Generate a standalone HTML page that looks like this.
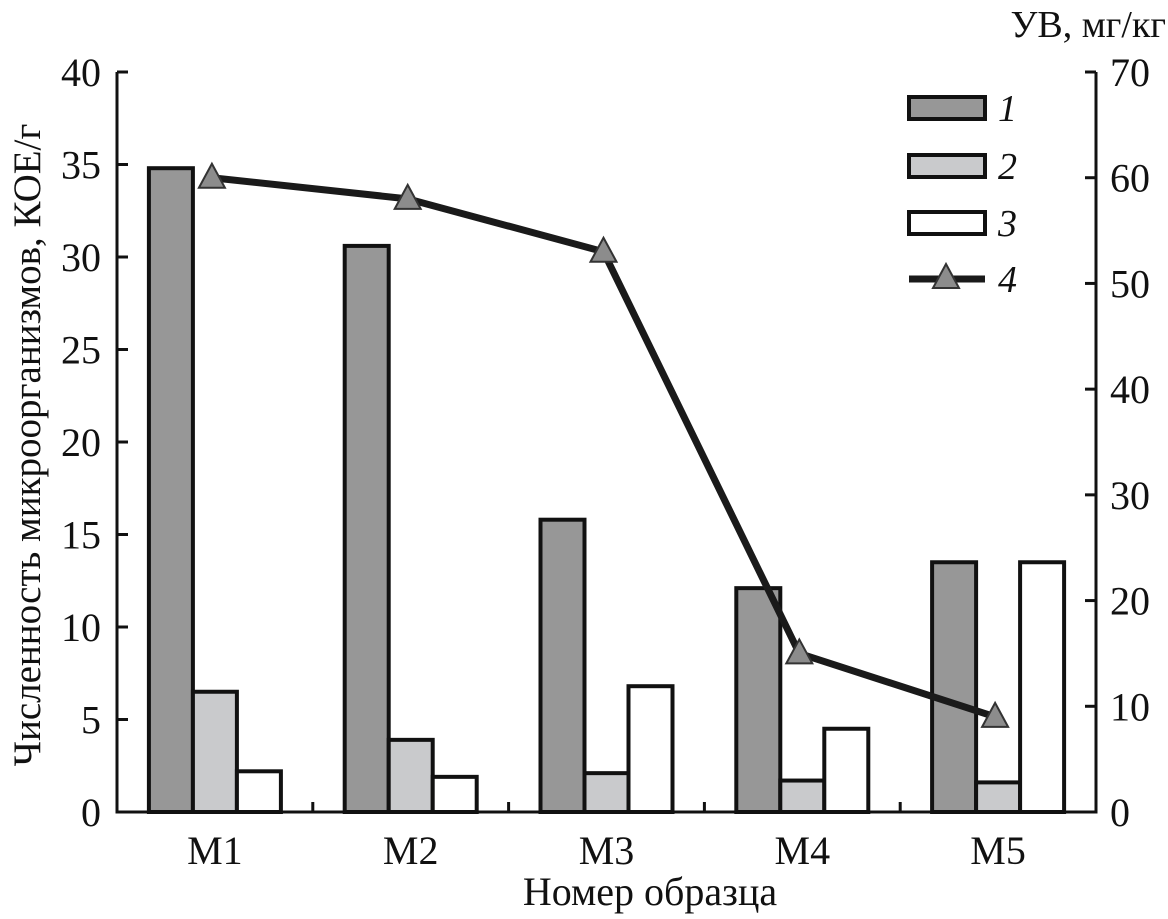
<!DOCTYPE html>
<html><head><meta charset="utf-8"><style>
body{margin:0;background:#fff}
svg{display:block;font-family:"Liberation Serif",serif}
</style></head><body>
<svg id="chart" width="1168" height="919">
<g id="bars"></g><g id="axes"></g><g id="line"></g><g id="legend"></g>
</svg>
<script>
const categories=["M1","M2","M3","M4","M5"];
const series1=[34.8,30.6,15.8,12.1,13.5];
const series2=[6.5,3.9,2.1,1.7,1.6];
const series3=[2.2,1.9,6.8,4.5,13.5];
const series4=[60,58,53,15,9];
const leftTicks=[0,5,10,15,20,25,30,35,40];
const rightTicks=[0,10,20,30,40,50,60,70];
const NS="http://www.w3.org/2000/svg";
const X0=117,X1=1096,Y0=812,Y1=72;
const yL=v=>Y0-(v/40)*(Y0-Y1);
const yR=v=>Y0-(v/70)*(Y0-Y1);
const cw=(X1-X0)/categories.length;
const xc=i=>X0+cw*(i+0.5);
function mk(p,tag,a,txt){const e=document.createElementNS(NS,tag);for(const k in a)e.setAttribute(k,a[k]);if(txt!==undefined)e.textContent=txt;document.getElementById(p).appendChild(e);return e;}
const bw=44,fills=["#979797","#c9cacc","#ffffff"];
[series1,series2,series3].forEach((s,si)=>{s.forEach((v,i)=>{
 const x=xc(i)-66+si*bw;
 const r=mk('bars','rect',{x:x,y:yL(v),width:bw,height:Y0-yL(v),fill:fills[si],stroke:'#111','stroke-width':4});
 
 
});});
let e=mk('axes','path',{d:`M${X0},${Y1} V${Y0} H${X1} V${Y1}`,fill:'none',stroke:'#111','stroke-width':3});

leftTicks.forEach(t=>{mk('axes','line',{x1:X0,x2:X0+11,y1:yL(t),y2:yL(t),stroke:'#111','stroke-width':3});
 const l=mk('axes','text',{x:X0-16,y:yL(t)+14,'text-anchor':'end','font-size':40,fill:'#111'},t);
 });
rightTicks.forEach(t=>{mk('axes','line',{x1:X1-11,x2:X1,y1:yR(t),y2:yR(t),stroke:'#111','stroke-width':3});
 const l=mk('axes','text',{x:X1+14,y:yR(t)+14,'text-anchor':'start','font-size':40,fill:'#111'},t);
 });
categories.forEach((c,i)=>{if(i>0)mk('axes','line',{x1:X0+cw*i,x2:X0+cw*i,y1:Y0,y2:Y0-10,stroke:'#111','stroke-width':3});
 const l=mk('axes','text',{x:xc(i),y:Y0+52,'text-anchor':'middle','font-size':40,fill:'#111'},c);
 });
e=mk('axes','text',{x:650,y:905,'text-anchor':'middle','font-size':40,fill:'#111'},'Номер образца');

e=mk('axes','text',{x:0,y:0,transform:'translate(40,445) rotate(-90)','text-anchor':'middle','font-size':39,fill:'#111'},'Численность микроорганизмов, КОЕ/г');

e=mk('axes','text',{x:1166,y:37,'text-anchor':'end','font-size':38,fill:'#111'},'УВ, мг/кг');

const pts=series4.map((v,i)=>[xc(i)-3,yR(v)]);
e=mk('line','polyline',{points:pts.map(p=>p.join(',')).join(' '),fill:'none',stroke:'#1a1a1a','stroke-width':7,'stroke-linejoin':'round'});

const tri=(x,y)=>`${x},${y-14} ${x+13},${y+10} ${x-13},${y+10}`;
pts.forEach((p,i)=>{const m=mk('line','polygon',{points:tri(p[0],p[1]),fill:'#8c8c8c',stroke:'#333','stroke-width':2});
 });
const ly=[108,166,223];
ly.forEach((y,i)=>{const r=mk('legend','rect',{x:909,y:y-11,width:76,height:22,fill:fills[i],stroke:'#111','stroke-width':4});
 });
e=mk('legend','line',{x1:909,x2:985,y1:279,y2:279,stroke:'#1a1a1a','stroke-width':7});

e=mk('legend','polygon',{points:tri(946,278),fill:'#8c8c8c',stroke:'#333','stroke-width':2});

[108,166,223,279].forEach((y,i)=>{const t=mk('legend','text',{x:998,y:y+13,'font-size':38,'font-style':'italic',fill:'#111'},String(i+1));
 });
</script>
</body></html>
